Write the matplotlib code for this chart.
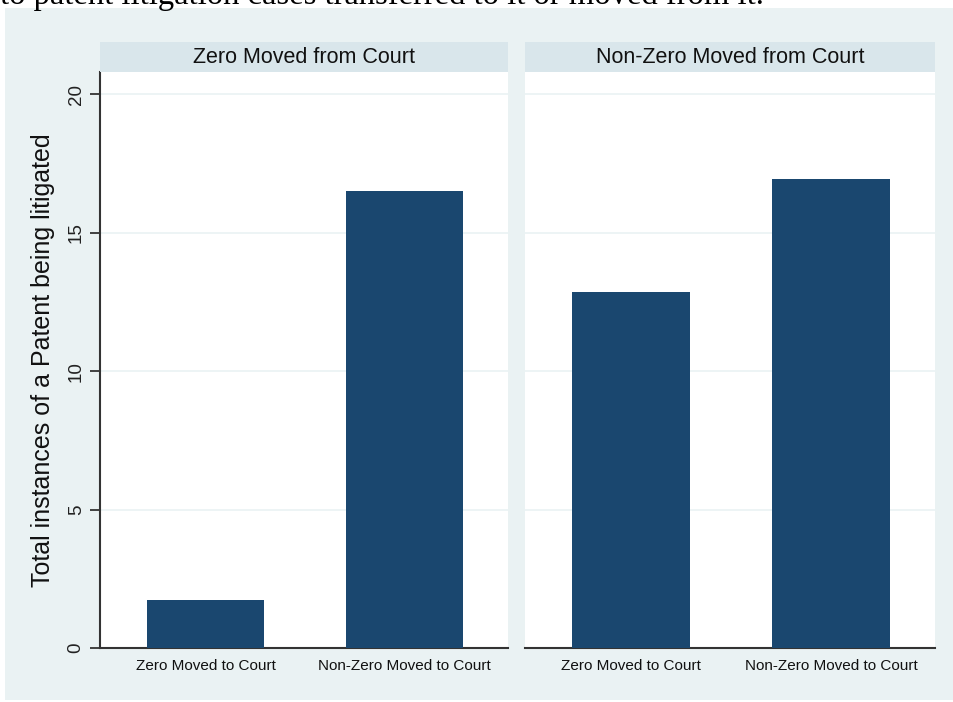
import matplotlib.pyplot as plt
from matplotlib.patches import Rectangle

plt.rcParams['font.family'] = ['Liberation Sans', 'DejaVu Sans']

# panel titles (by "moved from court") and bar categories (by "moved to court")
panels = ['Zero Moved from Court', 'Non-Zero Moved from Court']
categories = ['Zero Moved to Court', 'Non-Zero Moved to Court']
values = [
    [1.75, 16.5],   # Zero Moved from Court
    [12.85, 16.95], # Non-Zero Moved from Court
]
yticks = [0, 5, 10, 15, 20]

bg = '#EAF2F3'
strip_col = '#D9E6EB'
bar_col = '#1A476F'
axis_col = '#333333'

fig = plt.figure(figsize=(9.54, 7.02), dpi=100)
fig.patch.set_facecolor('white')

# Stata graph region background
fig.patches.append(Rectangle((5 / 954, 1 - 700 / 702), 949 / 954, 692 / 702,
                             transform=fig.transFigure, facecolor=bg,
                             edgecolor='none', zorder=-10))

# cut-off line of caption text above the chart
fig.text(0.0, 1 - 4 / 702, 'to patent litigation cases transferred to it or moved from it.',
         family=['Liberation Serif', 'DejaVu Serif'], fontsize=23.5, va='baseline',
         ha='left', color='black', zorder=-5)

lefts = [100 / 954, 525 / 954]
widths = [408 / 954, 410 / 954]
bottom = 1 - 648 / 702
height = 576 / 702
strip_bottom = 1 - 72 / 702
strip_h = 30 / 702

for i, (title, vals) in enumerate(zip(panels, values)):
    ax = fig.add_axes([lefts[i], bottom, widths[i], height])
    ax.set_facecolor('white')
    ax.bar(range(len(categories)), vals, width=0.59, color=bar_col, zorder=3)
    ax.set_xlim(-0.53, 1.52)
    ax.set_ylim(0, 20.8)
    ax.set_yticks(yticks)
    ax.yaxis.grid(True, color=bg, linewidth=1.2, zorder=0)
    ax.set_axisbelow(True)
    ax.set_xticks(range(len(categories)))
    ax.set_xticklabels(categories, fontsize=11, color='#111111')
    ax.tick_params(axis='x', length=0, pad=8)
    for s in ['top', 'right']:
        ax.spines[s].set_visible(False)
    ax.spines['bottom'].set_color(axis_col)
    ax.spines['bottom'].set_linewidth(1.5)
    if i == 0:
        ax.spines['left'].set_color(axis_col)
        ax.spines['left'].set_linewidth(1.5)
        ax.tick_params(axis='y', length=7, width=1.3, color=axis_col,
                       labelsize=13.5, pad=4, labelcolor='#222222')
        for lbl in ax.get_yticklabels():
            lbl.set_rotation(90)
            lbl.set_va('center')
        ax.set_ylabel('Total instances of a Patent being litigated',
                      fontsize=18, labelpad=9, color='#111111')
    else:
        ax.spines['left'].set_visible(False)
        ax.tick_params(axis='y', length=0, labelleft=False)

    # strip title
    sax = fig.add_axes([lefts[i], strip_bottom, widths[i], strip_h])
    sax.set_facecolor(strip_col)
    sax.set_xticks([])
    sax.set_yticks([])
    for s in sax.spines.values():
        s.set_visible(False)
    sax.text(0.5, 0.48, title, transform=sax.transAxes, ha='center', va='center',
             fontsize=15.5, color='#111111')

fig.savefig('out.png', dpi=100, facecolor=fig.get_facecolor())
